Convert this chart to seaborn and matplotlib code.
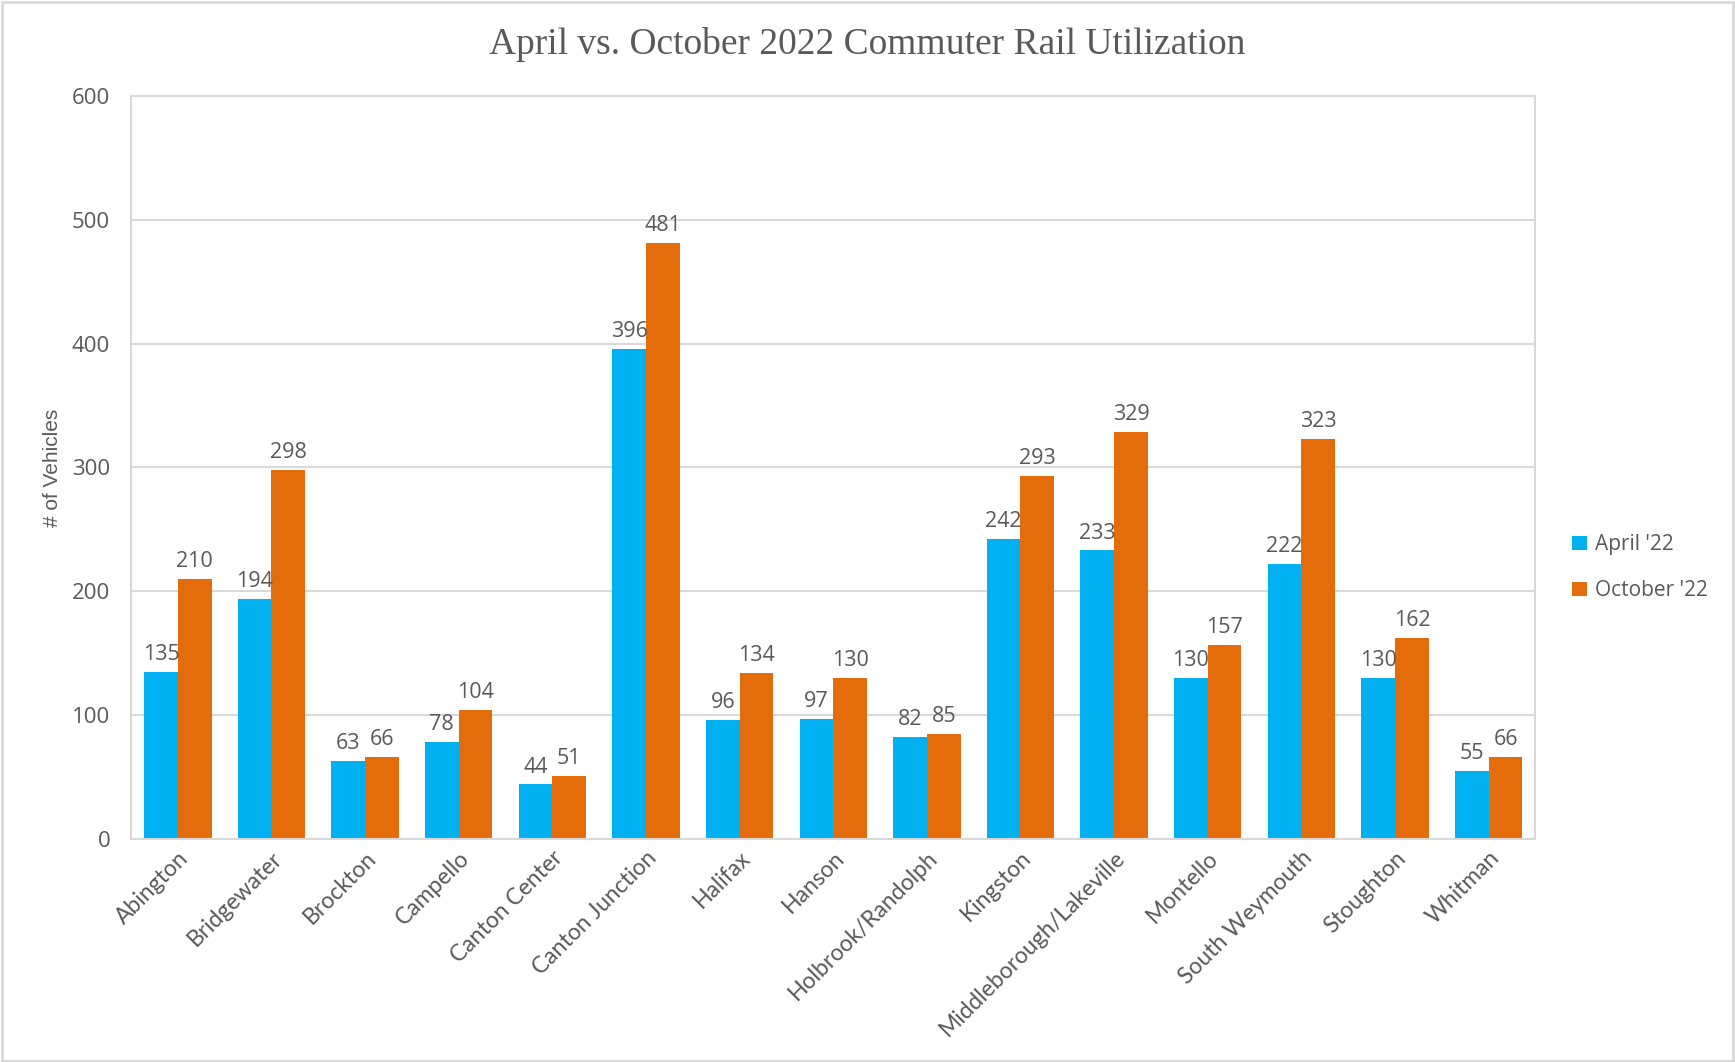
import matplotlib
matplotlib.use("Agg")
import matplotlib.pyplot as plt
import seaborn as sns
import pandas as pd
from matplotlib.patches import Rectangle

stations = ["Abington", "Bridgewater", "Brockton", "Campello", "Canton Center",
            "Canton Junction", "Halifax", "Hanson", "Holbrook/Randolph", "Kingston",
            "Middleborough/Lakeville", "Montello", "South Weymouth", "Stoughton", "Whitman"]
april = [135, 194, 63, 78, 44, 396, 96, 97, 82, 242, 233, 130, 222, 130, 55]
october = [210, 298, 66, 104, 51, 481, 134, 130, 85, 293, 329, 157, 323, 162, 66]
series_names = ["April '22", "October '22"]
colors = ["#00B0F0", "#E46C0A"]

df = pd.DataFrame({
    "Station": stations * 2,
    "Vehicles": april + october,
    "Series": [series_names[0]] * len(stations) + [series_names[1]] * len(stations),
})

sns.set_theme(style="white")
plt.rcParams["font.family"] = ["Open Sans", "DejaVu Sans"]

fig = plt.figure(figsize=(17.35, 10.62), dpi=100)
ax = fig.add_axes([0.0755, 0.21, 0.8095, 0.6996])

sns.barplot(data=df, x="Station", y="Vehicles", hue="Series", palette=colors,
            width=0.72, gap=0, ax=ax, legend=True, saturation=1, linewidth=0)

grey = "#595959"
for cont in ax.containers:
    ax.bar_label(cont, fmt="%d", padding=5, fontsize=15.5, color=grey)

ax.set_ylim(0, 600)
ax.set_yticks(range(0, 601, 100))
ax.yaxis.grid(True, color="#D9D9D9", linewidth=1.5)
ax.set_axisbelow(True)
for s in ax.spines.values():
    s.set_color("#D9D9D9")
    s.set_linewidth(1.5)
ax.tick_params(axis="y", labelsize=16, colors=grey, length=0, pad=15)
ax.tick_params(axis="x", labelsize=16.5, colors=grey, length=0, pad=6)
for lbl in ax.get_xticklabels():
    lbl.set_rotation(45)
    lbl.set_ha("right")
    lbl.set_rotation_mode("anchor")
    lbl.set_family(["Lato", "DejaVu Sans"])
ax.set_xlabel("")
ax.set_ylabel("# of Vehicles", fontsize=15, color=grey,
              family=["Liberation Sans Narrow", "Liberation Sans"])
ax.yaxis.set_label_coords(-0.049, 0.5)
ax.set_xlim(-0.5, len(stations) - 0.5)

fig.suptitle("April vs. October 2022 Commuter Rail Utilization", y=0.958, va="center",
             fontsize=27, color=grey, family=["Liberation Serif"])

handles, labels = ax.get_legend_handles_labels()
ax.legend(handles, labels, loc="center left", bbox_to_anchor=(1.013, 0.365), frameon=False,
          fontsize=15, labelcolor=grey, handlelength=0.7, handleheight=0.7,
          labelspacing=1.2, handletextpad=0.4)

fig.patches.append(Rectangle((0.001, 0.001), 0.998, 0.997, transform=fig.transFigure,
                             fill=False, edgecolor="#D9D9D9", linewidth=2))

fig.savefig("out.png", dpi=100)
